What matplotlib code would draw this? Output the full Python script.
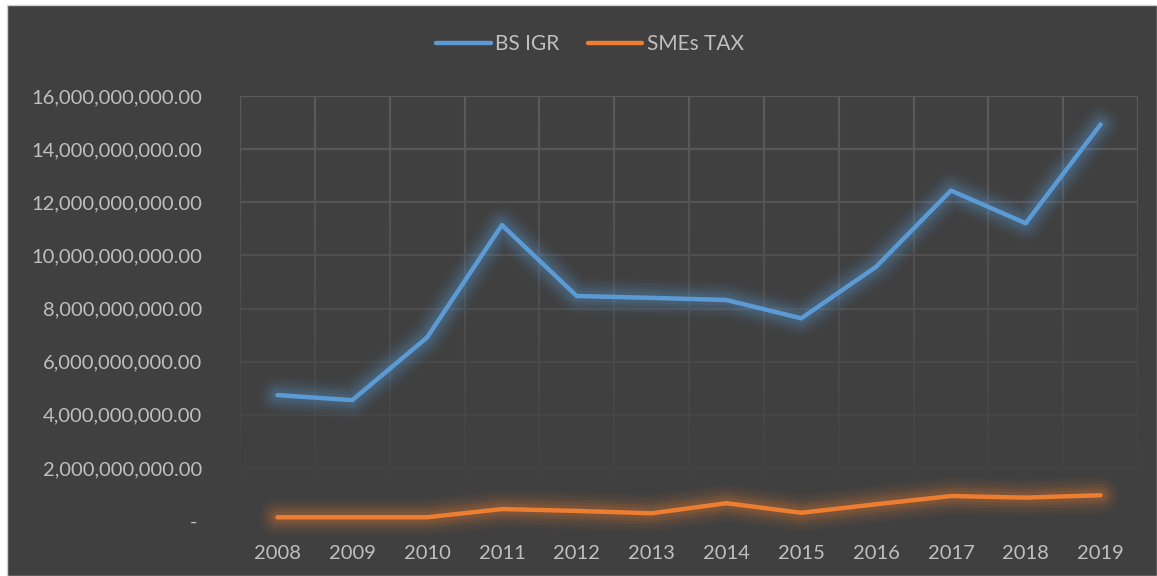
import matplotlib
matplotlib.use("Agg")
import matplotlib.pyplot as plt
from matplotlib.patches import Rectangle
from matplotlib.collections import LineCollection
from matplotlib.ticker import FuncFormatter
import numpy as np

years = ["2008", "2009", "2010", "2011", "2012", "2013", "2014", "2015", "2016", "2017", "2018", "2019"]
bs_igr = [4.74e9, 4.55e9, 6.91e9, 11.14e9, 8.47e9, 8.40e9, 8.32e9, 7.63e9, 9.57e9, 12.44e9, 11.21e9, 14.93e9]
smes_tax = [0.14e9, 0.14e9, 0.14e9, 0.45e9, 0.38e9, 0.29e9, 0.67e9, 0.31e9, 0.63e9, 0.94e9, 0.88e9, 0.97e9]
series_names = ["BS IGR", "SMEs TAX"]

BG = "#404040"
GRID = "#5a5a5a"
TXT = "#bfbfbf"
BLUE = "#5b9bd5"
ORANGE = "#ed7d31"
FONT = "Lato"

W, H = 1157, 576
fig = plt.figure(figsize=(W / 100, H / 100), dpi=100, facecolor="white")
fig.patches.append(Rectangle((7 / W, 0), 1 - 7 / W, 1 - 5 / H, transform=fig.transFigure,
                             facecolor=BG, edgecolor="#d0d0d0", linewidth=1.0, zorder=-10))

ax = fig.add_axes([240 / W, 1 - 521 / H, (1138 - 240) / W, (521 - 96) / H])
ax.set_facecolor("none")
x = np.arange(len(years))
ymax = 16e9
ax.set_xlim(-0.5, len(years) - 0.5)
ax.set_ylim(0, ymax)

# gridlines fading toward the bottom
def alpha_of(v):
    return float(np.clip((v - 1.2e9) / (ymax - 1.2e9), 0, 1)) ** 0.9

segs, cols = [], []
base = np.array(matplotlib.colors.to_rgb(GRID))
bgc = np.array(matplotlib.colors.to_rgb(BG))
for v in np.arange(2e9, ymax + 1, 2e9):
    a = alpha_of(v)
    segs.append([(-0.5, v), (len(years) - 0.5, v)])
    cols.append(tuple(bgc + (base - bgc) * a))
ys = np.linspace(0, ymax, 80)
for xv in np.arange(-0.5, len(years), 1.0):
    for i in range(len(ys) - 1):
        a = alpha_of((ys[i] + ys[i + 1]) / 2)
        segs.append([(xv, ys[i]), (xv, ys[i + 1])])
        cols.append(tuple(bgc + (base - bgc) * a))
ax.add_collection(LineCollection(segs, colors=cols, linewidths=1.6, zorder=0, capstyle="butt"))

for s in ax.spines.values():
    s.set_visible(False)

# glow
for data, col in [(bs_igr, BLUE), (smes_tax, ORANGE)]:
    for lw, al in [(26, 0.05), (21, 0.06), (16, 0.08), (12, 0.1), (8, 0.12)]:
        ax.plot(x, data, color=col, lw=lw, alpha=al, solid_capstyle="round",
                solid_joinstyle="round", zorder=2, clip_on=False)

lines = []
for data, col, name in [(bs_igr, BLUE, series_names[0]), (smes_tax, ORANGE, series_names[1])]:
    ln, = ax.plot(x, data, color=col, lw=3.2, solid_capstyle="round", solid_joinstyle="round",
                  zorder=3, label=name, clip_on=False)
    lines.append(ln)

ax.set_xticks(x)
ax.set_xticklabels(years)
ax.set_yticks(np.arange(0, ymax + 1, 2e9))
ax.yaxis.set_major_formatter(FuncFormatter(lambda v, p: "- " if v == 0 else f"{v:,.2f}"))
ax.tick_params(axis="both", length=0, colors=TXT, labelsize=14.5)
ax.tick_params(axis="y", pad=27)
ax.tick_params(axis="x", pad=17)
for lab in ax.get_xticklabels() + ax.get_yticklabels():
    lab.set_fontfamily(FONT)
    lab.set_color(TXT)

leg = fig.legend(handles=lines, loc="center", bbox_to_anchor=(590 / W, 1 - 44 / H), ncol=2,
                 frameon=False, prop={"family": FONT, "size": 15}, handlelength=2.6,
                 handletextpad=0.2, columnspacing=1.4)
for t in leg.get_texts():
    t.set_color(TXT)
for lh in leg.get_lines():
    lh.set_linewidth(3.2)

fig.savefig("out.png", dpi=100, facecolor="white")
